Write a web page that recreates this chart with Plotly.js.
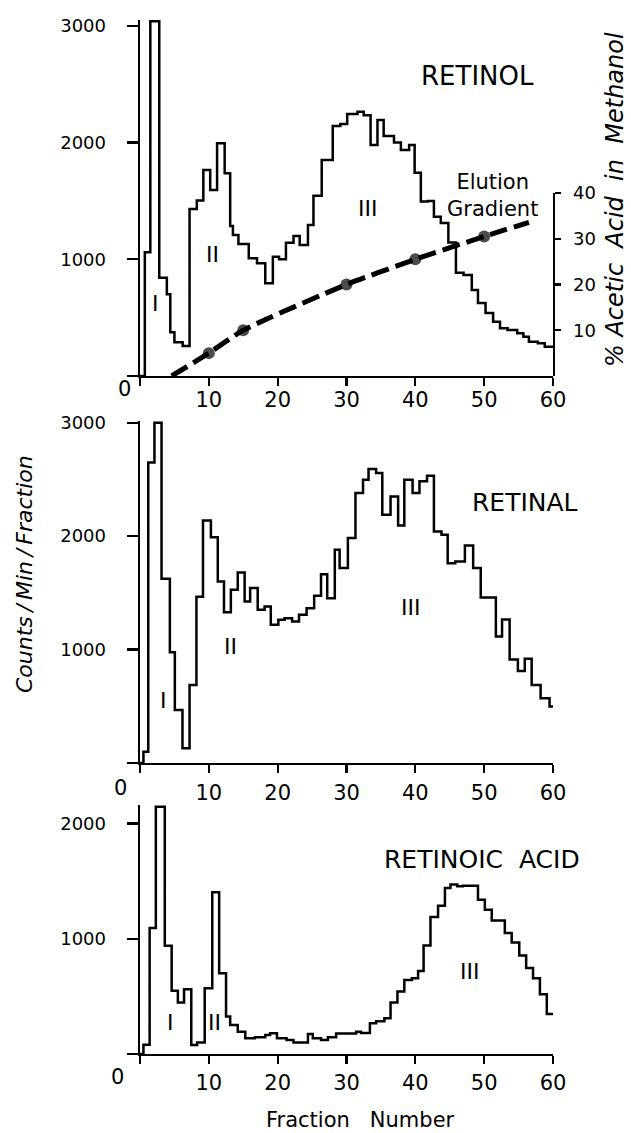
<!DOCTYPE html>
<html>
<head>
<meta charset="utf-8">
<script src="https://cdn.plot.ly/plotly-3.0.1.min.js"></script>
<style>html,body{margin:0;padding:0;background:#fff;}#chart{width:631px;height:1133px;}</style>
</head>
<body>
<div id="chart"></div>
<script>
// ---------- DATA ----------
// Retinol: left edge of each step (fraction number) and counts/min/fraction
const retinolX = [0, 0.7, 1.5, 2.8, 3.9, 4.4, 5.0, 6.2, 7.2, 8.25, 9.2, 10.2, 11.2, 12.3, 13.1, 13.5, 14.3, 15.8, 17.0, 18.2, 19.3, 20.2, 21.2, 22.3, 23.2, 24.4, 25.2, 26.4, 28.0, 29.1, 30.1, 31.6, 32.5, 33.5, 34.5, 35.4, 36.9, 37.9, 39.1, 39.9, 40.8, 41.8, 42.7, 43.7, 44.8, 45.9, 47.0, 48.2, 49.1, 50.2, 51.3, 52.3, 53.4, 54.8, 55.7, 56.5, 57.8, 58.8];
const retinolCounts = [0, 1060, 3040, 842, 700, 375, 290, 257, 1430, 1503, 1765, 1594, 1993, 1737, 1285, 1208, 1130, 1008, 965, 795, 1022, 1000, 1142, 1200, 1122, 1294, 1545, 1851, 2142, 2160, 2245, 2265, 2235, 1980, 2194, 2057, 2000, 1937, 1980, 1742, 1494, 1500, 1365, 1310, 1143, 885, 866, 737, 625, 540, 465, 410, 395, 367, 337, 294, 280, 251];

// Elution gradient (% acetic acid in methanol)
const gradientX = [4.6, 10, 15, 30, 40, 50, 56.5];
const gradientPct = [0, 5, 10, 20, 25.5, 30.5, 33.6];
const gradientMarked = [false, true, true, true, true, true, false];

// Retinal
const retinalX = [0, 0.5, 1.2, 2.1, 3.13, 4.34, 5.06, 6.17, 7.2, 8.2, 9.15, 10.3, 11.3, 12.2, 13.2, 14.2, 15.2, 16.0, 17.1, 18.1, 19.0, 20.1, 21.0, 22.1, 23.1, 24.2, 25.3, 26.3, 27.2, 28.3, 29.0, 30.2, 31.3, 32.4, 33.2, 34.3, 35.2, 36.4, 37.5, 38.4, 39.6, 40.6, 41.7, 42.7, 43.8, 44.7, 45.8, 47.2, 48.4, 49.5, 51.7, 52.6, 53.7, 54.9, 55.9, 56.9, 58.2, 59.5];
const retinalCounts = [0, 100, 2650, 3000, 1624, 977, 468, 130, 688, 1465, 2138, 1990, 1600, 1330, 1527, 1680, 1424, 1542, 1350, 1380, 1218, 1262, 1277, 1247, 1306, 1365, 1474, 1665, 1453, 1880, 1718, 1983, 2380, 2497, 2592, 2557, 2189, 2350, 2094, 2497, 2380, 2483, 2533, 2041, 2012, 1762, 1777, 1918, 1718, 1460, 1115, 1265, 912, 810, 918, 688, 571, 497];

// Retinoic acid
const retinoicX = [0, 0.5, 1.4, 2.3, 3.6, 4.6, 5.5, 6.4, 7.45, 8.3, 9.4, 10.5, 11.5, 12.5, 13.1, 14.2, 15.3, 16.7, 18.2, 18.9, 19.9, 21.3, 22.3, 24.4, 25.1, 26.3, 27.3, 28.5, 31.4, 32.1, 33.4, 34.3, 35.5, 36.4, 37.4, 38.4, 39.5, 40.4, 41.2, 42.2, 43.3, 44.3, 45.1, 46.1, 46.9, 49.1, 50.1, 51.1, 53.0, 54.0, 55.1, 56.1, 57.1, 58.1, 59.1];
const retinoicCounts = [0, 80, 1093, 2145, 939, 548, 446, 562, 78, 99, 571, 1403, 700, 325, 252, 194, 136, 145, 165, 180, 136, 122, 99, 174, 136, 122, 145, 178, 194, 182, 267, 284, 310, 446, 542, 643, 658, 719, 942, 1188, 1287, 1440, 1470, 1455, 1460, 1339, 1252, 1157, 1049, 968, 855, 745, 658, 518, 348];

// Tick labels
const fractionTicks = [0, 10, 20, 30, 40, 50, 60];
const fractionTickText = ["", "10", "20", "30", "40", "50", "60"];
const countTicks3000 = [0, 1000, 2000, 3000];
const countTickText3000 = ["", "1000", "2000", "3000"];
const countTicks2000 = [0, 1000, 2000];
const countTickText2000 = ["", "1000", "2000"];
const pctTicks = [10, 20, 30, 40];
const pctTickText = ["10", "20", "30", "40"];

const panelNames = ["RETINOL", "RETINAL", "RETINOIC\u00a0\u00a0ACID"];
const peakLabels = ["I", "II", "III"];

// ---------- LAYOUT HELPERS ----------
const W = 631, H = 1133;
const px = v => v / W;
const py = v => 1 - v / H;
const FONT = "DejaVu Sans";
const xMax = fractionTicks[fractionTicks.length - 1];

function stepTrace(xs, ys, xa, ya) {
  return {
    x: xs.concat([xMax]), y: ys.concat([ys[ys.length - 1]]),
    xaxis: xa, yaxis: ya, type: "scatter", mode: "lines",
    line: {shape: "hv", color: "#000", width: 2.5},
    hoverinfo: "skip"
  };
}

const traces = [
  stepTrace(retinolX, retinolCounts, "x", "y"),
  {
    x: gradientX, y: gradientPct, xaxis: "x", yaxis: "y2", type: "scatter",
    mode: "lines+markers",
    line: {color: "#000", width: 5, dash: "18px,7px", shape: "spline", smoothing: 0.6},
    marker: {color: "#000", size: gradientMarked.map(m => m ? 12 : 0), line: {width: 0}},
    hoverinfo: "skip"
  },
  stepTrace(retinalX, retinalCounts, "x2", "y3"),
  stepTrace(retinoicX, retinoicCounts, "x3", "y4")
];

const xDom = [px(140), px(553)];
function xAxis(anchor, standoff) {
  return {
    domain: xDom, anchor: anchor, range: [0, xMax],
    tickmode: "array", tickvals: fractionTicks, ticktext: fractionTickText,
    ticks: "outside", ticklen: 8, tickwidth: 2.2, tickcolor: "#000",
    showline: true, linecolor: "#000", linewidth: 2.4,
    showgrid: false, zeroline: false, automargin: false,
    ticklabelstandoff: standoff,
    tickfont: {family: FONT, size: 21, color: "#000"}
  };
}
function yAxis(anchor, dom, top, vals, text) {
  return {
    domain: dom, anchor: anchor, range: [0, top],
    tickmode: "array", tickvals: vals, ticktext: text,
    ticks: "outside", ticklen: 11, tickwidth: 2.2, tickcolor: "#000",
    showline: true, linecolor: "#000", linewidth: 2.4,
    showgrid: false, zeroline: false, automargin: false,
    ticklabelstandoff: 17,
    tickfont: {family: FONT, size: 18, color: "#000"}
  };
}

const annFont = (s) => ({family: FONT, size: s, color: "#000"});
function note(text, x, y, size, extra) {
  return Object.assign({text: text, xref: "paper", yref: "paper", x: px(x), y: py(y),
    xanchor: "center", yanchor: "middle", showarrow: false, font: annFont(size)}, extra || {});
}

const annotations = [
  note(panelNames[0], 477, 76, 26),
  note(panelNames[1], 525, 502, 25),
  note(panelNames[2], 482, 859, 25),
  note("Elution<br>Gradient", 492, 196, 21),
  note(peakLabels[0], 155, 303, 22), note(peakLabels[1], 212, 254, 22), note(peakLabels[2], 367, 208, 22),
  note(peakLabels[0], 163, 700, 22), note(peakLabels[1], 230, 646, 22), note(peakLabels[2], 410, 607, 22),
  note(peakLabels[0], 170, 1022, 22), note(peakLabels[1], 215, 1022, 22), note(peakLabels[2], 469, 971, 22),
  note("0", 124, 389, 21), note("0", 120, 788, 21), note("0", 118, 1077, 21),
  note("Counts\u2009/\u2009Min\u2009/\u2009Fraction", 24, 574, 22, {textangle: -90, font: {family: FONT, size: 22, color: "#000", style: "italic"}}),
  note("%\u00a0Acetic\u00a0\u00a0Acid\u00a0\u00a0in\u00a0\u00a0Methanol", 615, 200, 24, {textangle: -90, font: {family: FONT, size: 24, color: "#000", style: "italic"}}),
  note("Fraction\u00a0\u00a0\u00a0Number", 360, 1120, 21)
];

const layout = {
  width: W, height: H,
  margin: {l: 0, r: 0, t: 0, b: 0},
  paper_bgcolor: "#fff", plot_bgcolor: "rgba(0,0,0,0)",
  showlegend: false,
  xaxis: xAxis("y", -5),
  yaxis: yAxis("x", [py(376), py(20)], 3050, countTicks3000, countTickText3000),
  yaxis2: {
    domain: [py(376), py(193)], anchor: "x", side: "right", range: [0, 40],
    tickmode: "array", tickvals: pctTicks, ticktext: pctTickText,
    ticks: "outside", ticklen: 6, tickwidth: 2.2, tickcolor: "#000",
    showline: true, linecolor: "#000", linewidth: 2.4,
    showgrid: false, zeroline: false, automargin: false,
    ticklabelstandoff: 8,
    tickfont: {family: FONT, size: 18, color: "#000"}
  },
  xaxis2: xAxis("y3", 1),
  yaxis3: yAxis("x2", [py(763), py(421)], 3015, countTicks3000, countTickText3000),
  xaxis3: xAxis("y4", 0),
  yaxis4: yAxis("x3", [py(1054), py(805)], 2160, countTicks2000, countTickText2000),
  annotations: annotations
};

Plotly.newPlot("chart", traces, layout, {staticPlot: true, displayModeBar: false});
</script>
</body>
</html>
